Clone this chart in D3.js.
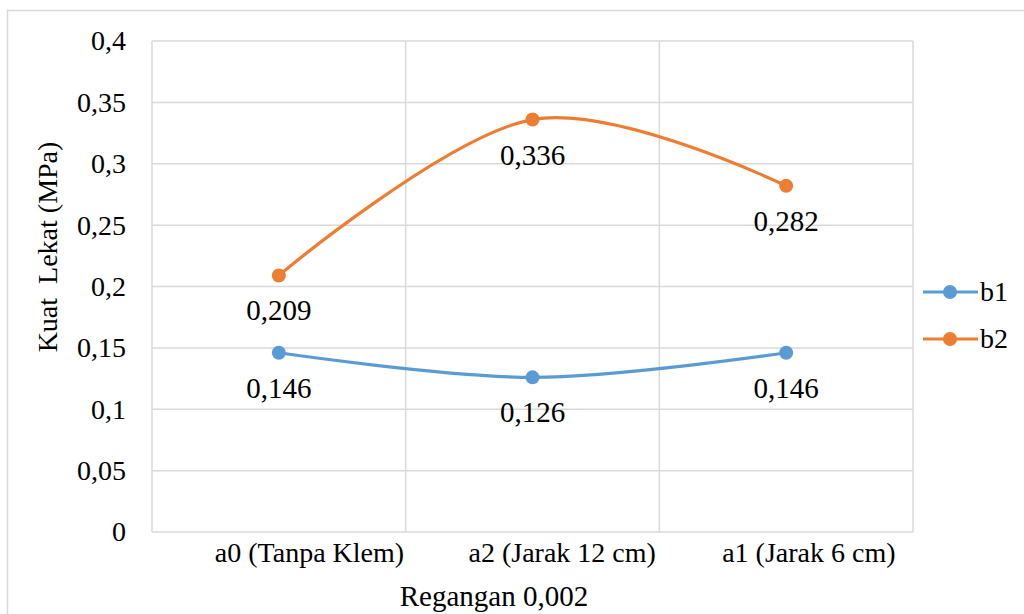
<!DOCTYPE html>
<html><head><meta charset="utf-8">
<script src="https://cdn.jsdelivr.net/npm/d3@7"></script>
<style>body{margin:0;background:#fff;} svg{display:block;} svg text{font-family:"Liberation Serif","Times New Roman",serif;}</style>
</head><body>
<script>
const categories = ["a0 (Tanpa Klem)", "a2 (Jarak 12 cm)", "a1 (Jarak 6 cm)"];
const b1 = [0.146, 0.126, 0.146];
const b2 = [0.209, 0.336, 0.282];
const seriesNames = ["b1", "b2"];
const yTicks = [0, 0.05, 0.1, 0.15, 0.2, 0.25, 0.3, 0.35, 0.4];
const yTickLabels = ["0", "0,05", "0,1", "0,15", "0,2", "0,25", "0,3", "0,35", "0,4"];
const b1Labels = ["0,146", "0,126", "0,146"];
const b2Labels = ["0,209", "0,336", "0,282"];

(function () {
const W = 1024, H = 614;
const pL = 152, pR = 913, pT = 41, pB = 532;
const colors = ["#5B9BD5", "#ED7D31"];
const font = "\"Liberation Serif\", \"Times New Roman\", serif";

const svg = d3.select("body").append("svg").attr("width", W).attr("height", H);
svg.append("rect").attr("x", 7.5).attr("y", 10.5).attr("width", W + 10).attr("height", H + 10)
  .attr("fill", "#fff").attr("stroke", "#d9d9d9").attr("stroke-width", 1.5);

const x = d3.scaleBand().domain(categories).range([pL, pR]).padding(0);
const y = d3.scaleLinear().domain([0, 0.4]).range([pB, pT]);

const g = svg.append("g");
g.selectAll(".hg").data(yTicks).join("line")
  .attr("x1", pL).attr("x2", pR)
  .attr("y1", d => y(d)).attr("y2", d => y(d))
  .attr("stroke", "#d9d9d9").attr("stroke-width", 1.5);
const bounds = categories.map(c => x(c)).concat([pR]);
g.selectAll(".vg").data(bounds).join("line")
  .attr("x1", d => d).attr("x2", d => d)
  .attr("y1", pT).attr("y2", pB)
  .attr("stroke", "#d9d9d9").attr("stroke-width", 1.5);

const yAxis = d3.axisLeft(y).tickValues(yTicks).tickFormat((d, i) => yTickLabels[i]).tickSize(0).tickPadding(26);
const ya = svg.append("g").attr("transform", `translate(${pL},0)`).call(yAxis);
ya.select(".domain").remove();
ya.attr("font-family", null).attr("font-size", null);
ya.selectAll("text").style("font-family", font).style("font-size", "28px").attr("fill", "#000").attr("dy", "0.32em");

const xAxis = d3.axisBottom(x).tickSize(0).tickPadding(10);
const xa = svg.append("g").attr("transform", `translate(0,${pB})`).call(xAxis);
xa.select(".domain").remove();
xa.attr("font-family", null).attr("font-size", null);
xa.selectAll("text").style("font-family", font).style("font-size", "28px").attr("fill", "#000")
  .attr("text-anchor", "start").attr("dx", -64);

svg.append("text").attr("x", 494).attr("y", 606)
  .attr("text-anchor", "middle").style("font-family", font).style("font-size", "29px").text("Regangan 0,002");
svg.append("text").attr("transform", `translate(57,247) rotate(-90)`)
  .attr("text-anchor", "middle").style("font-family", font).style("font-size", "28px")
  .style("white-space", "pre").text("Kuat  Lekat (MPa)");

const line = d3.line().x((d, i) => x(categories[i]) + x.bandwidth() / 2).y(d => y(d)).curve(d3.curveCardinal.tension(0));
const allSeries = [b1, b2];
const allLabels = [b1Labels, b2Labels];
allSeries.forEach((s, k) => {
  svg.append("path").attr("d", line(s)).attr("fill", "none").attr("stroke", colors[k]).attr("stroke-width", 3.2);
  svg.selectAll(".m" + k).data(s).join("circle")
    .attr("cx", (d, i) => x(categories[i]) + x.bandwidth() / 2).attr("cy", d => y(d)).attr("r", 7)
    .attr("fill", colors[k]);
  svg.selectAll(".l" + k).data(s).join("text")
    .attr("x", (d, i) => x(categories[i]) + x.bandwidth() / 2).attr("y", d => y(d) + 45)
    .attr("text-anchor", "middle").style("font-family", font).style("font-size", "29px").attr("fill", "#000")
    .text((d, i) => allLabels[k][i]);
});

seriesNames.forEach((n, k) => {
  const ly = 292 + k * 47;
  svg.append("line").attr("x1", 923).attr("x2", 978).attr("y1", ly).attr("y2", ly)
    .attr("stroke", colors[k]).attr("stroke-width", 3.2);
  svg.append("circle").attr("cx", 950).attr("cy", ly).attr("r", 7).attr("fill", colors[k]);
  svg.append("text").attr("x", 980).attr("y", ly + 9).style("font-family", font).style("font-size", "28px").text(n);
});
})();
</script>
</body></html>
